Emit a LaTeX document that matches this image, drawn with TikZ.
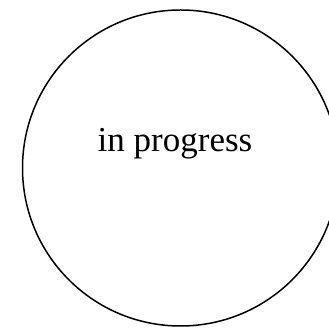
\documentclass[tikz,border=0pt]{standalone}
\usepackage{fontspec}
\setmainfont{Liberation Serif}
\usepackage{tikz}
\usetikzlibrary{positioning}
\tikzset{
  stateC/.style={circle, draw=black, line width=1.5pt,
                 inner sep=0pt, minimum size=316pt},
  stateT/.style={font=\fontsize{35}{40}\selectfont, anchor=base},
}

\begin{document}
\begin{tikzpicture}[x=1pt, y=1pt]
    \useasboundingbox (0,0) rectangle (329,328);
    %% state circle
    \node[stateC] (prog) at (180.5,160) {};
    %% label
    \node[stateT] (progtxt) at (175,176) {in progress};
\end{tikzpicture}
\end{document}
